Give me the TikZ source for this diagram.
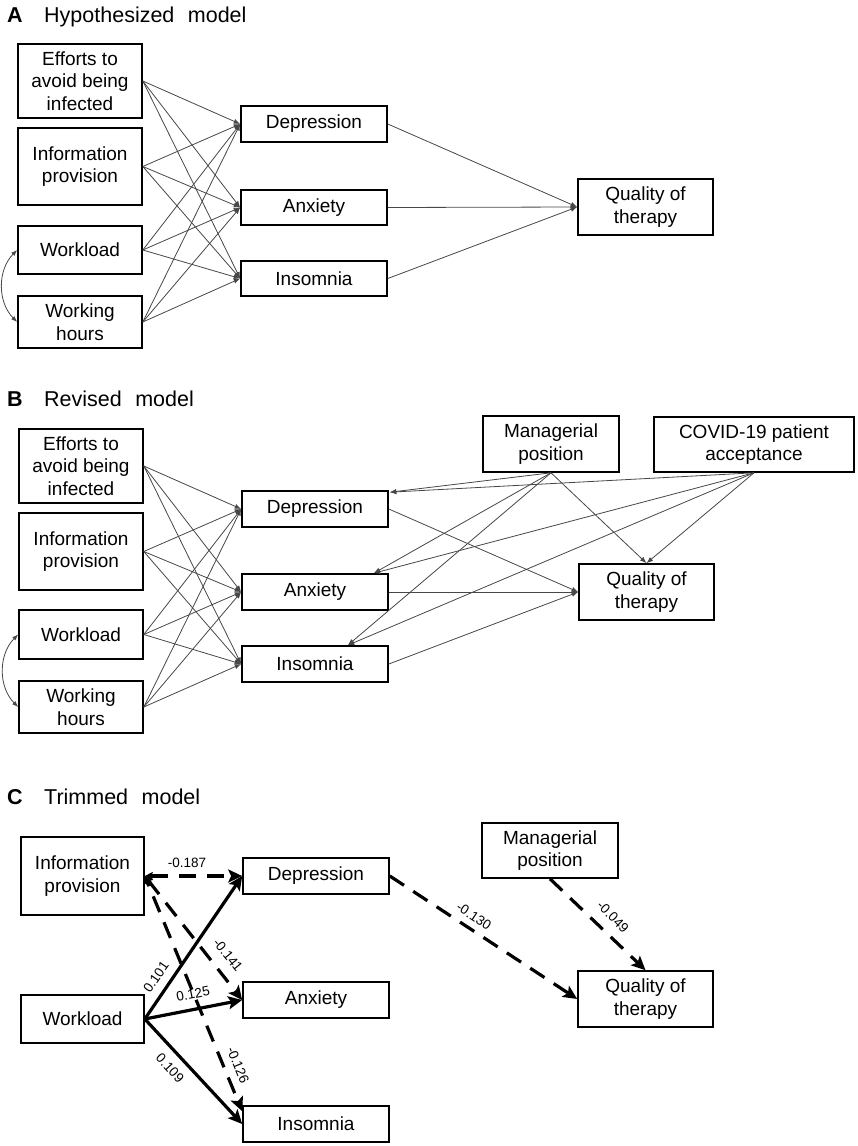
\documentclass[tikz,border=0pt]{standalone}
\usepackage{fontspec}
\setmainfont{Liberation Sans}
\usetikzlibrary{arrows.meta,calc}
\begin{document}
\begin{tikzpicture}[x=1pt,y=-1pt,
  box/.style={draw=black, line width=1.6pt, inner sep=0pt, align=center, font=\fontsize{19}{22.5}\selectfont},
  thinln/.style={draw=black!72, line width=0.8pt, arrows={-Latex[length=6.5pt,width=5pt]}},
  dblln/.style={draw=black!72, line width=0.8pt, arrows={Latex[length=6pt,width=4.5pt]-Latex[length=6pt,width=4.5pt]}},
  thickln/.style={draw=black, line width=3.2pt, arrows={-Stealth[length=14pt,width=13pt,inset=3pt]}},
  dashln/.style={thickln, dash pattern=on 17pt off 11pt},
  bothdash/.style={dashln, arrows={Stealth[length=8pt,width=8pt,inset=1.5pt]-Stealth[length=14pt,width=13pt,inset=3pt]}},
  lab/.style={font=\fontsize{13.5}{15}\selectfont, inner sep=0pt},
  ttl/.style={anchor=base west, inner sep=0pt, font=\fontsize{21.5}{24}\selectfont},
]
\useasboundingbox (0,0) rectangle (857,1146);

% ---------------- Panel A ----------------
\node[ttl] (tA) at (7,22) {\textbf{A}};
\node[ttl] (tAt) at (44,22) {Hypothesized\hspace{0.35em} model};

\node[box, minimum width=124pt, minimum height=74pt] (effA) at (80,81) {Efforts to\\avoid being\\infected};
\node[box, minimum width=124pt, minimum height=77pt] (infA) at (80,166.5) {Information\\provision};
\node[box, minimum width=124pt, minimum height=48pt] (wlA) at (80,250) {Workload};
\node[box, minimum width=124pt, minimum height=52pt] (whA) at (80,322) {Working\\hours};
\node[box, minimum width=146pt, minimum height=36pt] (depA) at (314,124) {Depression};
\node[box, minimum width=146pt, minimum height=35pt] (anxA) at (314,207.5) {Anxiety};
\node[box, minimum width=146pt, minimum height=35pt] (insA) at (314,278.5) {Insomnia};
\node[box, minimum width=135pt, minimum height=56pt] (qualA) at (645.5,207) {Quality of\\therapy};

\foreach \s in {effA,infA,wlA,whA}
  \foreach \t in {depA,anxA,insA}
    \draw[thinln] (\s.east) -- (\t.west);
\foreach \s in {depA,anxA,insA}
  \draw[thinln] (\s.east) -- (qualA.west);
\draw[dblln] (wlA.west) to[bend right=45] (whA.west);

% ---------------- Panel B ----------------
\node[ttl] (tB) at (7,406) {\textbf{B}};
\node[ttl] (tBt) at (44,406) {Revised\hspace{0.35em} model};

\node[box, minimum width=124pt, minimum height=74pt] (effB) at (81,466) {Efforts to\\avoid being\\infected};
\node[box, minimum width=124pt, minimum height=77pt] (infB) at (81,551.5) {Information\\provision};
\node[box, minimum width=124pt, minimum height=49pt] (wlB) at (81,634.5) {Workload};
\node[box, minimum width=124pt, minimum height=52pt] (whB) at (81,707) {Working\\hours};
\node[box, minimum width=146pt, minimum height=36pt] (depB) at (315,509) {Depression};
\node[box, minimum width=146pt, minimum height=36pt] (anxB) at (315,592) {Anxiety};
\node[box, minimum width=146pt, minimum height=36pt] (insB) at (315,664) {Insomnia};
\node[box, minimum width=136pt, minimum height=56pt] (manB) at (551,444) {Managerial\\position};
\node[box, minimum width=200pt, minimum height=55pt] (covB) at (754,444.5) {COVID-19 patient\\acceptance};
\node[box, minimum width=135pt, minimum height=56pt] (qualB) at (646.5,592) {Quality of\\therapy};

\foreach \s in {effB,infB,wlB,whB}
  \foreach \t in {depB,anxB,insB}
    \draw[thinln] (\s.east) -- (\t.west);
\foreach \s in {depB,anxB,insB}
  \draw[thinln] (\s.east) -- (qualB.west);
\draw[dblln] (wlB.west) to[bend right=45] (whB.west);

\foreach \s in {manB,covB} {
  \draw[thinln] (\s.south) -- ($(depB.north east)+(1,2)$);
  \draw[thinln] (\s.south) -- ($(anxB.north east)+(-15,0)$);
  \draw[thinln] (\s.south) -- ($(insB.north east)+(-41,0)$);
  \draw[thinln] (\s.south) -- (qualB.north);
}

% ---------------- Panel C ----------------
\node[ttl] (tC) at (7,804) {\textbf{C}};
\node[ttl] (tCt) at (44,804) {Trimmed\hspace{0.35em} model};

\node[box, minimum width=123pt, minimum height=78pt] (infC) at (82.5,876) {Information\\provision};
\node[box, minimum width=123pt, minimum height=48pt] (wlC) at (82.5,1019) {Workload};
\node[box, minimum width=146pt, minimum height=36pt] (depC) at (316,876) {Depression};
\node[box, minimum width=146pt, minimum height=36pt] (anxC) at (316,1000) {Anxiety};
\node[box, minimum width=146pt, minimum height=36pt] (insC) at (316,1124) {Insomnia};
\node[box, minimum width=136pt, minimum height=55pt] (manC) at (550,850.5) {Managerial\\position};
\node[box, minimum width=135pt, minimum height=56pt] (qualC) at (645.5,999) {Quality of\\therapy};

\draw[bothdash] (infC.east) -- (depC.west);
\draw[bothdash] (infC.east) -- (anxC.west);
\draw[bothdash, dash phase=12pt] (infC.east) -- ($(insC.north west)+(0,6)$);
\draw[thickln] (wlC.east) -- (depC.west);
\draw[thickln] (wlC.east) -- (anxC.west);
\draw[thickln] (wlC.east) -- (insC.west);
\draw[dashln] (depC.east) -- (qualC.west);
\draw[dashln] (manC.south) -- (qualC.north);

\node[lab] (l187) at (187,863) {-0.187};
\node[lab, rotate=55] (l101) at (156,977) {0.101};
\node[lab, rotate=11] (l125) at (193,994) {0.125};
\node[lab, rotate=-47] (l109) at (170,1068) {0.109};
\node[lab, rotate=-51] (l141) at (228,955) {-0.141};
\node[lab, rotate=-68] (l126) at (238,1065) {-0.126};
\node[lab, rotate=-33] (l130) at (474,916) {-0.130};
\node[lab, rotate=-45] (l049) at (613,917) {-0.049};
\end{tikzpicture}
\end{document}
